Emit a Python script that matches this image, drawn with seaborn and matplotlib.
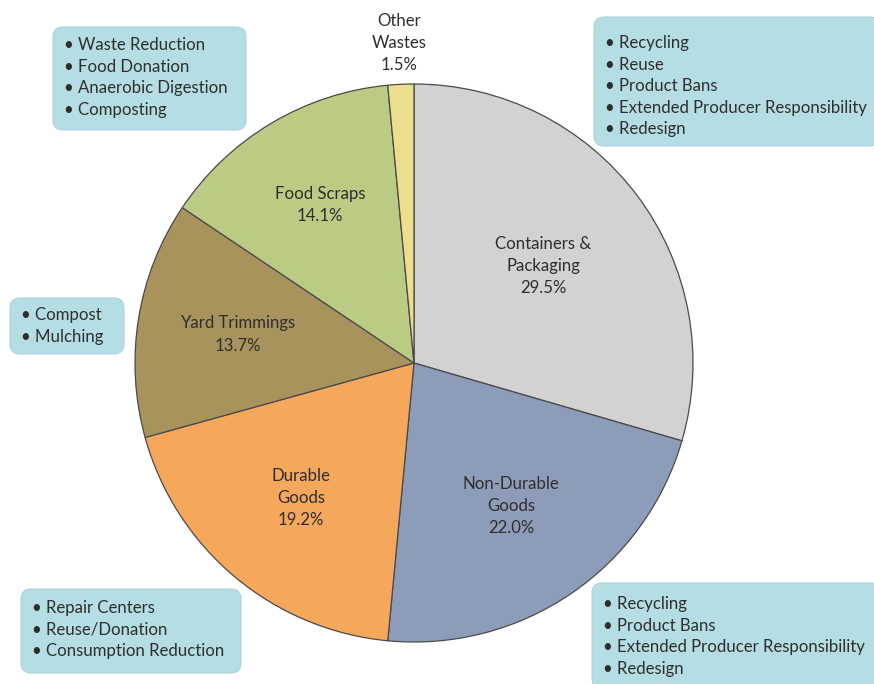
import matplotlib
matplotlib.use("Agg")
import matplotlib.pyplot as plt
from matplotlib.patches import FancyBboxPatch
import numpy as np
import seaborn as sns

# categories and shares (percent of MSW generation)
categories = ["Containers &\nPackaging", "Non-Durable\nGoods", "Durable\nGoods",
              "Yard Trimmings", "Food Scraps", "Other\nWastes"]
shares = [29.5, 22.0, 19.2, 13.7, 14.1, 1.5]
colors = ["#d2d2d2", "#8d9db9", "#f5a75c", "#a8935c", "#bacb84", "#ecde8c"]
# how far out the label sits (fraction of radius)
label_r = [0.58, 0.62, 0.63, 0.64, 0.66, 1.148]

# callout boxes: (left, top, width, height) in pixels, text lines
box_items = [
    ["Recycling", "Reuse", "Product Bans", "Extended Producer Responsibility", "Redesign"],
    ["Waste Reduction", "Food Donation", "Anaerobic Digestion", "Composting"],
    ["Compost", "Mulching"],
    ["Repair Centers", "Reuse/Donation", "Consumption Reduction"],
    ["Recycling", "Product Bans", "Extended Producer Responsibility", "Redesign"],
]
box_rects = [(594, 17, 286, 129), (53, 27, 193, 103), (10, 298, 114, 56),
             (21, 589, 220, 84), (592, 583, 290, 105)]
first_line = [31, 23, 22, 24, 26]

sns.set_theme(style="white")
plt.rcParams['font.family'] = ['Lato', 'DejaVu Sans']

W, H = 874, 684
fig = plt.figure(figsize=(W / 100, H / 100), dpi=100)
ax = fig.add_axes([0, 0, 1, 1])

def Y(y):
    return H - y

cx, cy, R = 414, Y(363), 279
wedges, _ = ax.pie(shares, colors=colors, startangle=90, counterclock=False,
                   center=(cx, cy), radius=R, frame=True,
                   wedgeprops=dict(edgecolor="#4a4a4a", linewidth=0.9))
ax.set_xlim(0, W)
ax.set_ylim(0, H)
ax.set_aspect("equal")
ax.axis("off")

txt_color = "#2e2e2e"
fs = 12.1
for w, name, val, r in zip(wedges, categories, shares, label_r):
    mid = np.deg2rad((w.theta1 + w.theta2) / 2)
    x = cx + r * R * np.cos(mid)
    y = cy + r * R * np.sin(mid)
    ax.text(x, y, f"{name}\n{val:.1f}%", ha="center", va="center",
            fontsize=fs, color=txt_color, linespacing=1.47)

for (l, t, bw, bh), items, f0 in zip(box_rects, box_items, first_line):
    pad = 10
    box = FancyBboxPatch((l + pad, Y(t + bh) + pad), bw - 2 * pad, bh - 2 * pad,
                         boxstyle=f"round,pad={pad}", fc="#b5dee4", ec="#a9d3da",
                         lw=0.8, zorder=3)
    ax.add_patch(box)
    for i, item in enumerate(items):
        ax.text(l + 11, Y(t + f0 + i * 21.6), "\u2022 " + item, ha="left",
                va="baseline", fontsize=fs, color=txt_color, zorder=4)

fig.savefig("out.png", dpi=100)
